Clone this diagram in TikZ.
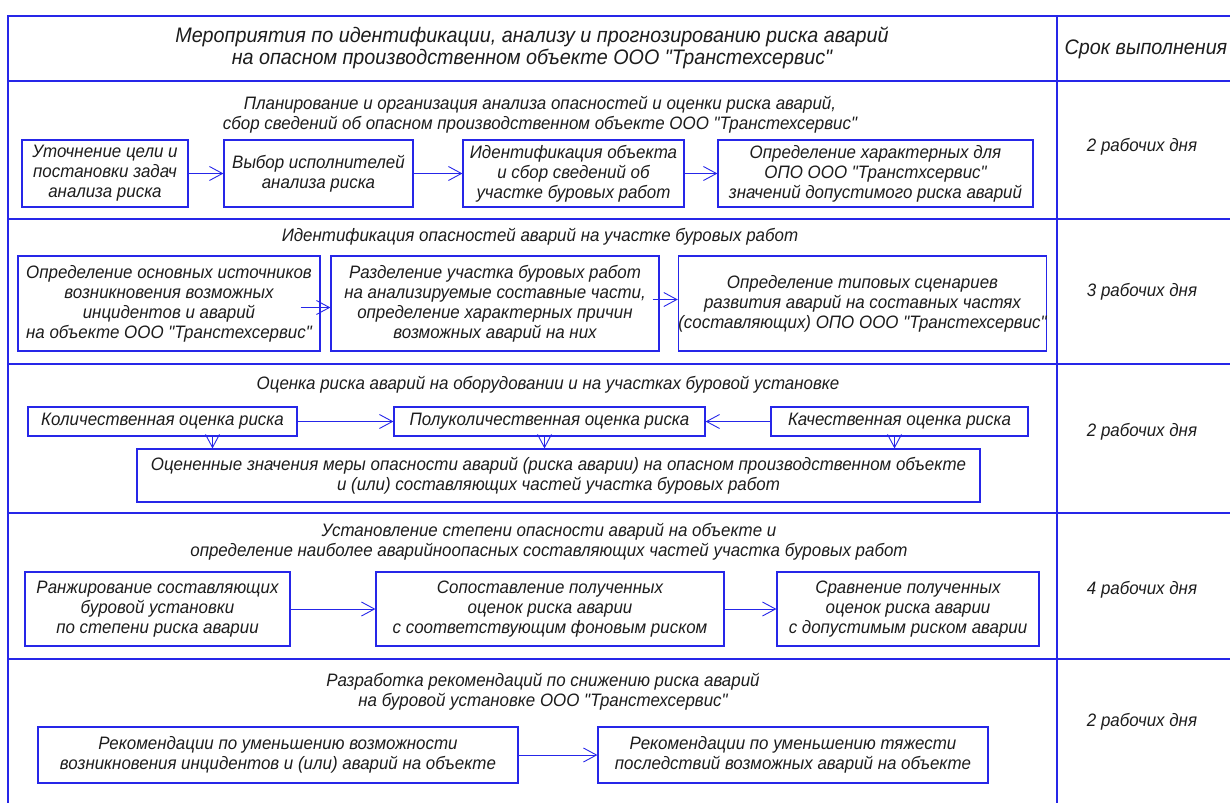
\documentclass[tikz,border=0pt]{standalone}
\usepackage{fontspec}
\setmainfont{Liberation Sans}[Ligatures=TeXOff, FakeStretch=0.94]
\usetikzlibrary{arrows.meta, positioning}
\definecolor{frameblue}{RGB}{38,38,232}
\definecolor{inkgray}{RGB}{28,28,28}

\begin{document}
\begin{tikzpicture}[x=1pt, y=-1pt,
    every node/.style={font=\fontsize{18}{20}\selectfont\itshape, text=inkgray, align=center, inner sep=0pt},
    headtext/.style={font=\fontsize{21}{22}\selectfont\itshape},
    frame/.style={frameblue, line width=1.4pt},
    stepbox/.style 2 args={draw=frameblue, line width=1.2pt, minimum width=#1, minimum height=#2},
    arr/.style={frameblue, line width=0.9pt, -{Straight Barb[length=13pt, width=14pt, line width=0.9pt]}}]

				\useasboundingbox (0,0) rectangle (1230,803);

				% Draw the table
				\draw[frame] (1230,16) -- (8,16) -- (8,803);
				\draw[frame] (1057,16) -- (1057,803);
				\foreach \yy in {81,219,364,513,659}
					\draw[frame] (8,\yy) -- (1230,\yy);

				% Header
				\node[headtext] (head) at (532,48) {Мероприятия по идентификации, анализу и прогнозированию риска аварий\\на опасном производственном объекте ООО "Транстехсервис"};
				\node[headtext] (term) at (1146,49) {Срок выполнения};

				% Stage 1
				\node (plan) at (540,115) {Планирование и организация анализа опасностей и оценки риска аварий,\\сбор сведений об опасном производственном объекте ООО "Транстехсервис"};
				\node[stepbox={166pt}{67pt}] (aim) at (105,173.5) {Уточнение цели и\\постановки задач\\анализа риска};
				\node[stepbox={189pt}{67pt}] (choose) at (318.5,173.5) {Выбор исполнителей\\анализа риска};
				\node[stepbox={221pt}{67pt}] (ident) at (573.5,173.5) {Идентификация объекта\\и сбор сведений об\\участке буровых работ};
				\node[stepbox={315pt}{67pt}] (admis) at (875.5,173.5) {Определение характерных для\\ОПО ООО "Транстхсервис"\\значений допустимого риска аварий};
				\draw[arr] (aim.east) -- (choose.west);
				\draw[arr] (choose.east) -- (ident.west);
				\draw[arr] (ident.east) -- (admis.west);
				\node (days1) at (1142,147) {2 рабочих дня};

				% Stage 2
				\node (hazard) at (540,237) {Идентификация опасностей аварий на участке буровых работ};
				\node[stepbox={302pt}{95pt}] (source) at (169,303.5) {Определение основных источников\\возникновения возможных\\инцидентов и аварий\\на объекте ООО "Транстехсервис"};
				\node[stepbox={328pt}{95pt}] (split) at (495,303.5) {Разделение участка буровых работ\\на анализируемые составные части,\\определение характерных причин\\возможных аварий на них};
				\node[stepbox={367pt}{95pt}] (scen) at (862.5,303.5) {Определение типовых сценариев\\развития аварий на составных частях\\(составляющих) ОПО ООО "Транстехсервис"};
				\draw[arr] ([xshift=-20pt, yshift=-4pt]source.east) -- ([yshift=-4pt]split.west);
				\draw[arr] ([xshift=-7pt, yshift=4pt]split.east) -- ([yshift=4pt]scen.west);
				\node (days2) at (1142,292) {3 рабочих дня};

				% Stage 3
				\node (assess) at (548,385) {Оценка риска аварий на оборудовании и на участках буровой установке};
				\node[stepbox={269pt}{29pt}] (kolich) at (162.5,421.5) {Количественная оценка риска};
				\node[stepbox={311pt}{29pt}] (polu) at (549.5,421.5) {Полуколичественная оценка риска};
				\node[stepbox={257pt}{29pt}] (kach) at (899.5,421.5) {Качественная оценка риска};
				\node[stepbox={843pt}{53pt}] (estim) at (558.5,475.5) {Оцененные значения меры опасности аварий (риска аварии) на опасном производственном объекте\\и (или) составляющих частей участка буровых работ};
				\draw[arr] (kolich.east) -- (polu.west);
				\draw[arr] (kach.west) -- (polu.east);
				\draw[arr] ([xshift=50pt]kolich.south) -- ([xshift=50pt]kolich.south |- estim.north);
				\draw[arr] ([xshift=-5pt]polu.south) -- ([xshift=-5pt]polu.south |- estim.north);
				\draw[arr] ([xshift=-5pt]kach.south) -- ([xshift=-5pt]kach.south |- estim.north);
				\node (days3) at (1142,432) {2 рабочих дня};

				% Stage 4
				\node (degree) at (549,542) {Установление степени опасности аварий на объекте и\\определение наиболее аварийноопасных составляющих частей участка буровых работ};
				\node[stepbox={265pt}{74pt}] (rank) at (157.5,609) {Ранжирование составляющих\\буровой установки\\по степени риска аварии};
				\node[stepbox={348pt}{74pt}] (backgr) at (550,609) {Сопоставление полученных\\оценок риска аварии\\с соответствующим фоновым риском};
				\node[stepbox={262pt}{74pt}] (compar) at (908,609) {Сравнение полученных\\оценок риска аварии\\с допустимым риском аварии};
				\draw[arr] (rank.east) -- (backgr.west);
				\draw[arr] (backgr.east) -- (compar.west);
				\node (days4) at (1142,590) {4 рабочих дня};

				% Stage 5
				\node (recom) at (543,692) {Разработка рекомендаций по снижению риска аварий\\на буровой установке ООО "Транстехсервис"};
				\node[stepbox={480pt}{56pt}] (lower) at (278,755) {Рекомендации по уменьшению возможности\\возникновения инцидентов и (или) аварий на объекте};
				\node[stepbox={390pt}{56pt}] (severe) at (793,755) {Рекомендации по уменьшению тяжести\\последствий возможных аварий на объекте};
				\draw[arr] (lower.east) -- (severe.west);
				\node (days5) at (1142,722) {2 рабочих дня};
			\end{tikzpicture}
\end{document}
